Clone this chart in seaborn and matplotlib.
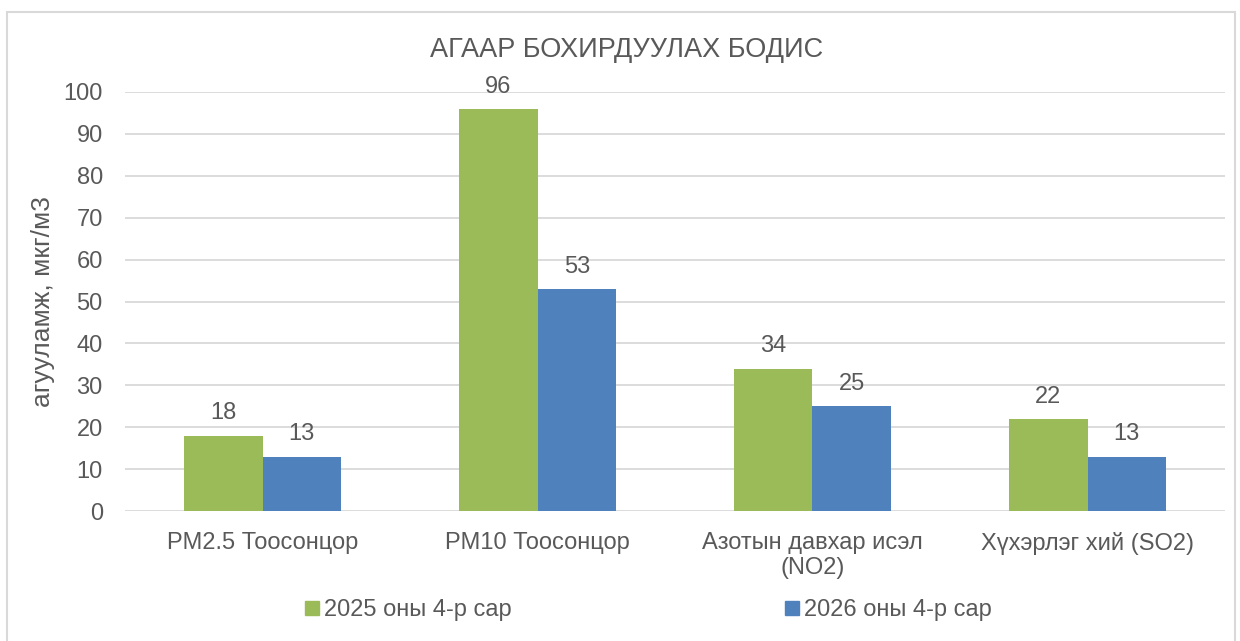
import matplotlib
matplotlib.use("Agg")
import matplotlib.pyplot as plt
import seaborn as sns
import pandas as pd
from matplotlib.patches import Rectangle
from matplotlib.lines import Line2D

# ── data ──────────────────────────────────────────────────────────────────────
categories = ["PM2.5 Тоосонцор", "PM10 Тоосонцор",
              "Азотын давхар исэл\n(NO2)", "Хүхэрлэг хий (SO2)"]
series_names = ["2025 оны 4-р сар", "2026 оны 4-р сар"]
values_2025 = [18, 96, 34, 22]
values_2026 = [13, 53, 25, 13]
colors = ["#9BBB59", "#4F81BD"]

df = pd.DataFrame({
    "category": categories * 2,
    "series": [series_names[0]] * 4 + [series_names[1]] * 4,
    "value": values_2025 + values_2026,
})

# ── style ─────────────────────────────────────────────────────────────────────
sns.set_theme(style="white")
plt.rcParams["font.family"] = ["Liberation Sans", "DejaVu Sans"]
TXT = "#595959"
FS = 17

fig = plt.figure(figsize=(12.4, 6.41), dpi=100)
ax = fig.add_axes([125 / 1240, 1 - 511 / 641, 1100 / 1240, 419 / 641])

sns.barplot(data=df, x="category", y="value", hue="series",
            palette=colors, width=0.572, gap=0, saturation=1,
            linewidth=0, ax=ax, legend=False)

for cont in ax.containers:
    ax.bar_label(cont, padding=8, fontsize=FS, color=TXT)

ax.set_ylim(0, 100)
ax.set_yticks(range(0, 101, 10))
ax.yaxis.grid(True, color="#D9D9D9", linewidth=1.3)
ax.set_axisbelow(True)
for s in ax.spines.values():
    s.set_visible(False)
ax.tick_params(axis="y", labelsize=FS, labelcolor=TXT, length=0, pad=16)
ax.tick_params(axis="x", labelsize=FS, labelcolor=TXT, length=0, pad=15)
ax.set_xlabel("")
ax.set_ylabel("агууламж, мкг/м3", fontsize=19, color=TXT, labelpad=6)

fig.text(627 / 1240, 1 - 50 / 641, "АГААР БОХИРДУУЛАХ БОДИС", ha="center",
         va="center", fontsize=19.5, color=TXT)

handles = [Line2D([], [], marker="s", linestyle="", markersize=9.5,
                  markerfacecolor=c, markeredgecolor=c) for c in colors]
fig.legend(handles, series_names, loc="center",
           bbox_to_anchor=(646 / 1240, 1 - 610 / 641),
           ncol=2, frameon=False, fontsize=FS, labelcolor=TXT,
           handletextpad=0.0, columnspacing=11.4, handlelength=1.0)

# chart border
fig.patches.append(Rectangle((7 / 1240, -0.01), 1228 / 1240, 1 - 12 / 641 + 0.01,
                             transform=fig.transFigure, fill=False,
                             edgecolor="#D9D9D9", linewidth=1.5))

fig.savefig("out.png", dpi=100)
